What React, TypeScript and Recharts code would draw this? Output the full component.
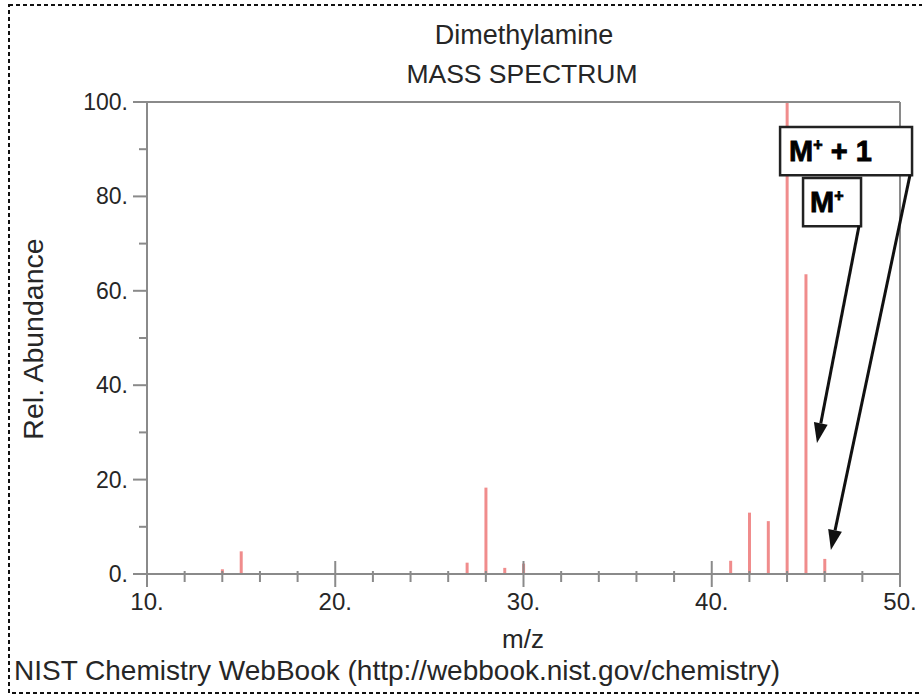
import React from "react";
import {
  ComposedChart,
  Bar,
  XAxis,
  YAxis,
  ReferenceLine,
  ReferenceArea,
} from "recharts";

// m/z values and relative abundances
const mzValues = [14, 15, 27, 28, 29, 30, 41, 42, 43, 44, 45, 46];
const abundances = [1, 4.8, 2.4, 18.3, 1.3, 2.2, 2.8, 13, 11.2, 100, 63.5, 3.2];

const xTicks = [10, 12, 14, 16, 18, 20, 22, 24, 26, 28, 30, 32, 34, 36, 38, 40, 42, 44, 46, 48, 50];
const yTicks = [0, 10, 20, 30, 40, 50, 60, 70, 80, 90, 100];
const xMajor = [10, 20, 30, 40, 50];
const yMajor = [0, 20, 40, 60, 80, 100];

// annotation boxes in data coordinates
const boxLabels = ["M+1", "M"];
const boxX1 = [43.63, 44.85];
const boxX2 = [50.64, 47.93];
const boxY1 = [84.5, 73.7];
const boxY2 = [94.7, 83.9];

// arrows in data coordinates
const arrowStartX = [47.82, 50.53];
const arrowStartY = [73.7, 84.5];
const arrowEndX = [45.59, 46.33];
const arrowEndY = [27.75, 5.1];

const data = mzValues.map((mz, i) => ({ mz, abundance: abundances[i] }));

const FONT = "'Liberation Sans', Arial, Helvetica, sans-serif";
const AXIS = "#8a8a8a";
const TXT = "#262626";
const PEAK = "#f08c8c";

const XTick = (props: any) => {
  const { x, y, payload } = props;
  const v = payload.value;
  const major = xMajor.includes(v);
  return (
    <g>
      <line
        x1={x}
        x2={x}
        y1={major ? y - 13 : y - 3}
        y2={major ? y + 13 : y + 8}
        stroke={AXIS}
        strokeWidth={2}
      />
      {major && (
        <text x={x} y={y + 36} textAnchor="middle" fontFamily={FONT} fontSize={24} fill={TXT}>
          {v + "."}
        </text>
      )}
    </g>
  );
};

const YTick = (props: any) => {
  const { x, y, payload } = props;
  const v = payload.value;
  const major = yMajor.includes(v);
  return (
    <g>
      <line x1={major ? x - 14 : x - 8} x2={x} y1={y} y2={y} stroke={AXIS} strokeWidth={2} />
      {major && (
        <text
          x={x - 19}
          y={y + 8}
          textAnchor="end"
          fontFamily={FONT}
          fontSize={23}
          fill={TXT}
        >
          {v + "."}
        </text>
      )}
    </g>
  );
};

const makeBoxLabel = (kind: string) => (props: any) => {
  const vb = props.viewBox || {};
  const bx = vb.x ?? 0;
  const by = vb.y ?? 0;
  const h = vb.height ?? 0;
  const w = vb.width ?? 0;
  if (kind === "M+1") {
    return (
      <text
        x={bx + 9}
        y={by + h / 2 + 10}
        fontFamily={FONT}
        fontWeight={900}
        fontSize={29}
        fill="#000"
        stroke="#000"
        strokeWidth={0.8}
      >
        <tspan>M</tspan>
        <tspan fontSize={16} dy={-11}>+</tspan>
        <tspan dy={11}>{" + 1"}</tspan>
      </text>
    );
  }
  return (
    <text
      x={bx + w / 2 - 22}
      y={by + h / 2 + 10}
      fontFamily={FONT}
      fontWeight={900}
      fontSize={29}
      fill="#000"
      stroke="#000"
      strokeWidth={0.8}
    >
      <tspan>M</tspan>
      <tspan fontSize={16} dy={-11}>+</tspan>
    </text>
  );
};

const Arrow = (props: any) => {
  const { x1, y1, x2, y2 } = props;
  if ([x1, y1, x2, y2].some((v) => v === undefined || isNaN(v))) return null;
  const dx = x2 - x1;
  const dy = y2 - y1;
  const len = Math.sqrt(dx * dx + dy * dy);
  const ux = dx / len;
  const uy = dy / len;
  const headLen = 20;
  const headW = 7;
  const bx = x2 - ux * headLen;
  const by = y2 - uy * headLen;
  const px = -uy;
  const py = ux;
  return (
    <g>
      <line x1={x1} y1={y1} x2={bx} y2={by} stroke="#111" strokeWidth={3} />
      <polygon
        points={`${x2},${y2} ${bx + px * headW},${by + py * headW} ${bx - px * headW},${by - py * headW}`}
        fill="#111"
      />
    </g>
  );
};

const MARGIN = { top: 102, right: 22, bottom: 95, left: 0 };

export default function App() {
  return (
    <div
      style={{
        position: "absolute",
        left: 0,
        top: 0,
        width: 922,
        height: 699,
        background: "#fff",
        overflow: "hidden",
      }}
    >
      <ComposedChart width={922} height={699} data={data} margin={MARGIN}>
        <XAxis
          dataKey="mz"
          type="number"
          domain={[10, 50]}
          ticks={xTicks}
          interval={0}
          tick={<XTick />}
          tickLine={false}
          tickSize={0}
          tickMargin={0}
          axisLine={{ stroke: AXIS, strokeWidth: 2 }}
          height={30}
          allowDataOverflow
        />
        <YAxis
          type="number"
          domain={[0, 100]}
          ticks={yTicks}
          interval={0}
          tick={<YTick />}
          tickLine={false}
          tickSize={0}
          tickMargin={0}
          axisLine={{ stroke: AXIS, strokeWidth: 2 }}
          width={147}
          allowDataOverflow
        />
        <ReferenceLine y={100} stroke={AXIS} strokeWidth={2} />
        <ReferenceLine x={50} stroke={AXIS} strokeWidth={2} />
        <Bar dataKey="abundance" barSize={3} fill={PEAK} isAnimationActive={false} />
      </ComposedChart>

      {/* annotation layer: same scales, drawn above the peaks */}
      <div style={{ position: "absolute", left: 0, top: 0 }}>
        <ComposedChart width={922} height={699} data={data} margin={MARGIN}>
          <XAxis
            dataKey="mz"
            type="number"
            domain={[10, 50]}
            height={30}
            axisLine={false}
            tickLine={false}
            tick={false}
            allowDataOverflow
          />
          <YAxis
            type="number"
            domain={[0, 100]}
            width={147}
            axisLine={false}
            tickLine={false}
            tick={false}
            allowDataOverflow
          />
          {boxLabels.map((k, i) => (
            <ReferenceArea
              key={k}
              x1={boxX1[i]}
              x2={boxX2[i]}
              y1={boxY1[i]}
              y2={boxY2[i]}
              ifOverflow="visible"
              fill="#fff"
              fillOpacity={1}
              stroke="#222"
              strokeWidth={2.5}
              label={makeBoxLabel(k)}
            />
          ))}
          {arrowStartX.map((sx, i) => (
            <ReferenceLine
              key={"arrow" + i}
              segment={[
                { x: sx, y: arrowStartY[i] },
                { x: arrowEndX[i], y: arrowEndY[i] },
              ]}
              ifOverflow="visible"
              stroke="#111"
              shape={(p: any) => <Arrow {...p} />}
            />
          ))}
        </ComposedChart>
      </div>

      <svg
        width={922}
        height={699}
        style={{ position: "absolute", left: 0, top: 0, pointerEvents: "none" }}
      >
        <rect
          x={9}
          y={5}
          width={930}
          height={688}
          fill="none"
          stroke="#111"
          strokeWidth={2}
          strokeDasharray="4 3"
        />
        <text x={524} y={44} textAnchor="middle" fontFamily={FONT} fontSize={27} fill={TXT}>
          Dimethylamine
        </text>
        <text x={522} y={83} textAnchor="middle" fontFamily={FONT} fontSize={26.5} fill={TXT}>
          MASS SPECTRUM
        </text>
        <text
          x={43}
          y={339}
          transform="rotate(-90 43 339)"
          textAnchor="middle"
          fontFamily={FONT}
          fontSize={28.5}
          fill={TXT}
        >
          Rel. Abundance
        </text>
        <text x={523} y={648} textAnchor="middle" fontFamily={FONT} fontSize={26} fill={TXT}>
          m/z
        </text>
        <text x={14} y={680} fontFamily={FONT} fontSize={28} fill={TXT}>
          NIST Chemistry WebBook (http://webbook.nist.gov/chemistry)
        </text>
      </svg>
    </div>
  );
}
